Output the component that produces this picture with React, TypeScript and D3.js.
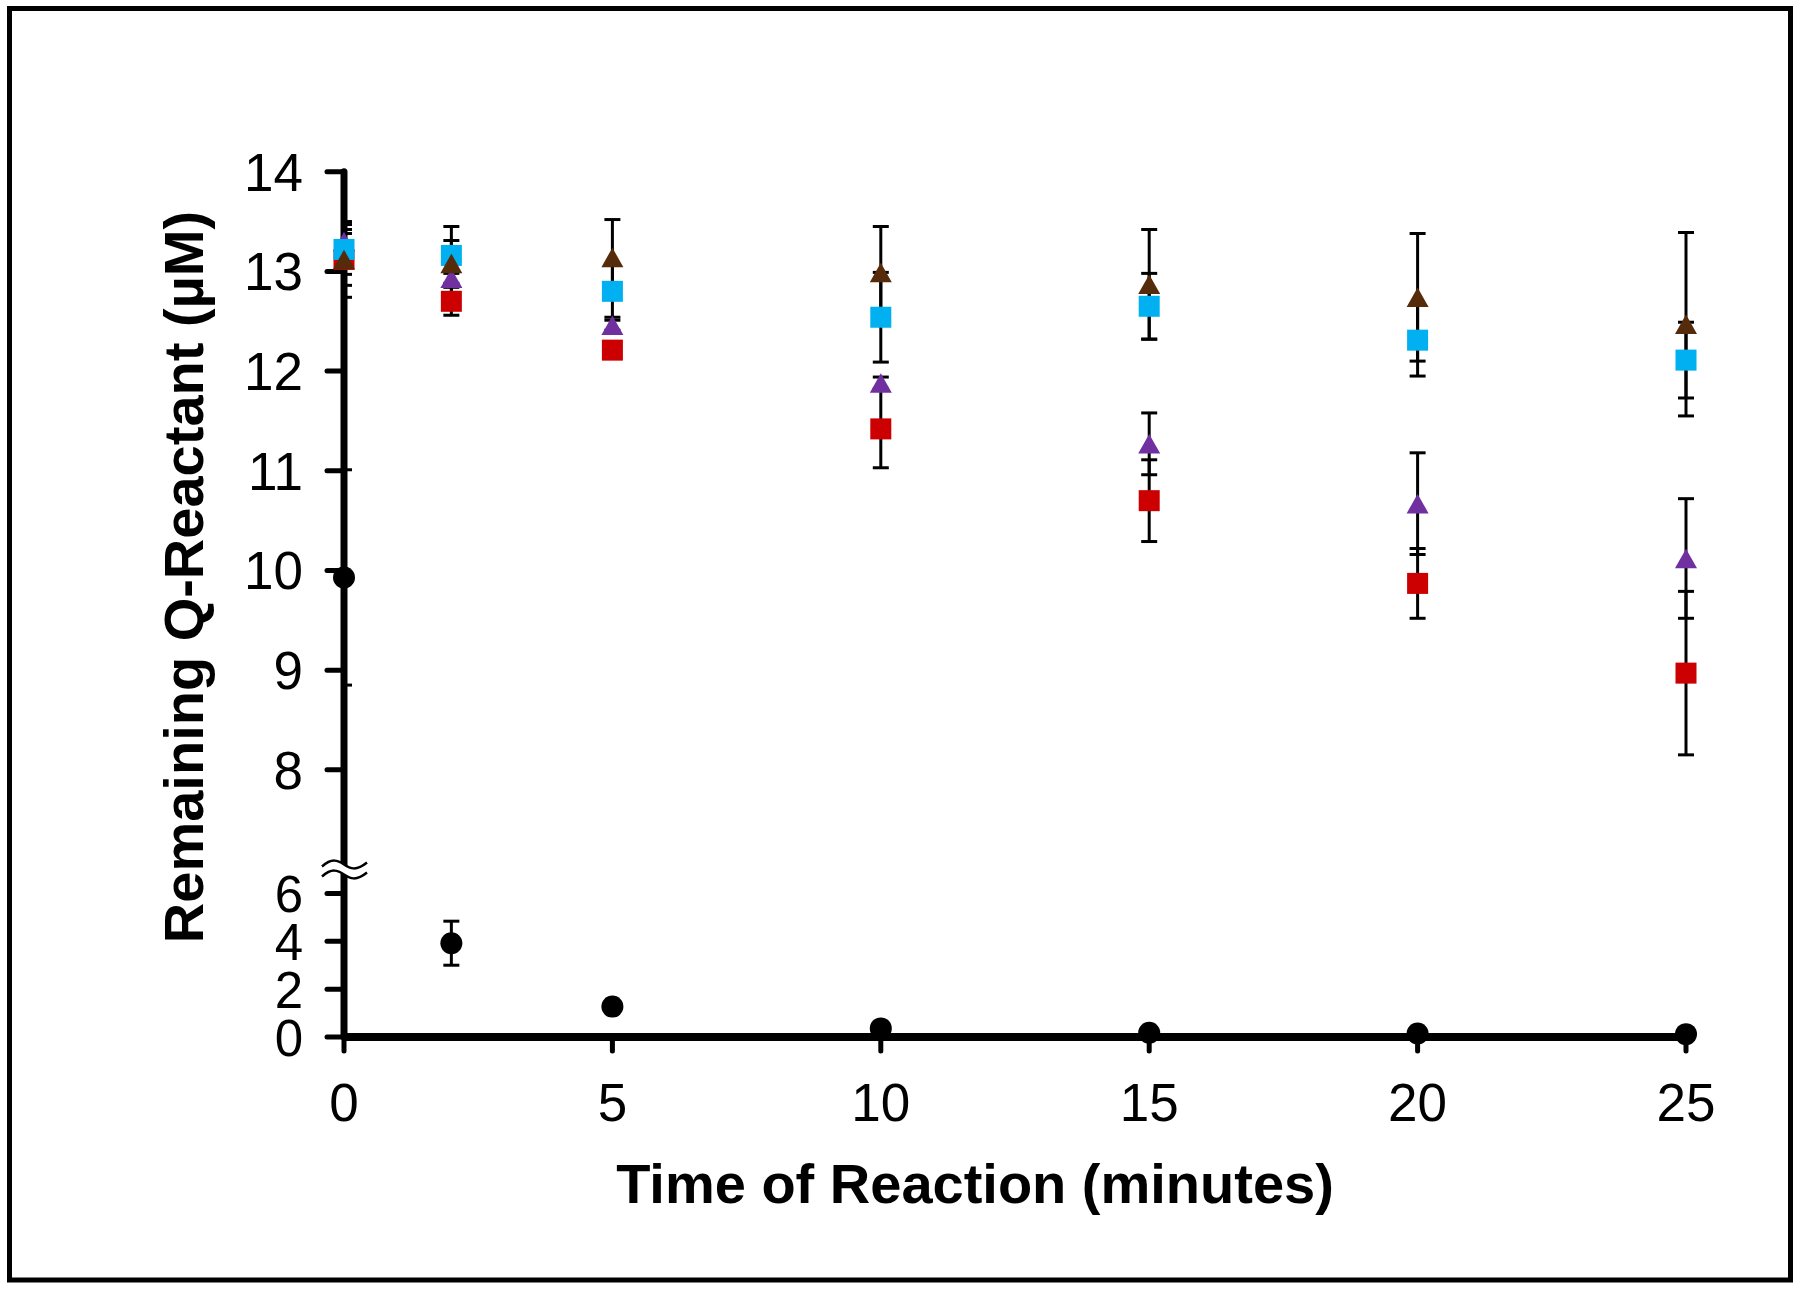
import React from "react";
import * as d3 from "d3";

const times = [0, 2, 5, 10, 15, 20, 25];
const xTicks = [0, 5, 10, 15, 20, 25];
const yTicks = [0, 2, 4, 6, 8, 9, 10, 11, 12, 13, 14];

const blackVals = [9.93, 3.92, 1.27, 0.36, 0.18, 0.15, 0.12];
const blackErr = [1.08, 0.92, 0, 0, 0, 0, 0];
const redVals = [13.12, 12.7, 12.21, 11.42, 10.7, 9.87, 8.97];
const redErr = [0.26, 0.14, 0.05, 0.39, 0.41, 0.35, 0.82];
const purpleVals = [13.3, 12.93, 12.46, 11.88, 11.27, 10.67, 10.12];
const purpleErr = [0.12, 0.05, 0.05, 0.06, 0.31, 0.51, 0.6];
const cyanVals = [13.22, 13.16, 12.8, 12.54, 12.65, 12.31, 12.11];
const cyanErr = [0.25, 0.15, 0.26, 0.45, 0.33, 0.36, 0.38];
const brownVals = [13.12, 13.08, 13.14, 12.99, 12.87, 12.74, 12.47];
const brownErr = [0.38, 0.37, 0.38, 0.46, 0.55, 0.64, 0.92];

type Series = { vals: number[]; err: number[]; color: string; shape: "circle" | "square" | "triangle" };

const series: Series[] = [
  { vals: blackVals, err: blackErr, color: "#000000", shape: "circle" },
  { vals: redVals, err: redErr, color: "#CC0000", shape: "square" },
  { vals: purpleVals, err: purpleErr, color: "#7030A0", shape: "triangle" },
  { vals: cyanVals, err: cyanErr, color: "#00B0F0", shape: "square" },
  { vals: brownVals, err: brownErr, color: "#562B0B", shape: "triangle" },
];

const FONT = "'Liberation Sans', Arial, Helvetica, sans-serif";

export default function App() {
  const x = d3.scaleLinear().domain([0, 25]).range([344, 1686]);
  // broken axis: lower segment 0..7 compressed, upper 7..14
  const y = d3.scaleLinear().domain([0, 7, 14]).range([1037, 869.5, 171.7]);

  const x0 = x(0);
  const y0 = y(0);
  const breakY = y(7);

  const marker = (s: Series, cx: number, cy: number, key: string) => {
    if (s.shape === "circle") return <circle key={key} cx={cx} cy={cy} r={11} fill={s.color} />;
    if (s.shape === "square")
      return <rect key={key} x={cx - 10.5} y={cy - 10.5} width={21} height={21} fill={s.color} />;
    const w = 22, h = 19.5;
    return (
      <path
        key={key}
        d={`M${cx},${cy - h / 2} L${cx + w / 2},${cy + h / 2} L${cx - w / 2},${cy + h / 2} Z`}
        fill={s.color}
      />
    );
  };

  const wave = (yy: number) =>
    `M${x0 - 22},${yy + 2} C${x0 - 12},${yy - 7} ${x0 - 6},${yy - 4} ${x0},${yy} C${x0 + 6},${yy + 4} ${x0 + 12},${yy + 7} ${x0 + 23},${yy - 2}`;

  return (
    <svg
      width={1800}
      height={1290}
      style={{ position: "absolute", left: 0, top: 0, background: "#fff" }}
      fontFamily={FONT}
    >
      <defs>
        <clipPath id="plotClip">
          <rect x={x0} y={0} width={1800 - x0} height={1290} />
        </clipPath>
      </defs>
      <rect x={0} y={0} width={1800} height={1290} fill="#fff" />
      <rect x={9.5} y={8.5} width={1781} height={1271.5} fill="none" stroke="#000" strokeWidth={5} />

      {/* axes */}
      <line x1={x0} x2={x0} y1={y(14)} y2={y0} stroke="#000" strokeWidth={7} strokeLinecap="round" />
      <line x1={x0} x2={x(25)} y1={y0} y2={y0} stroke="#000" strokeWidth={8} />
      {yTicks.map((t) => (
        <g key={"yt" + t}>
          <line x1={x0 - 17} x2={x0} y1={y(t)} y2={y(t)} stroke="#000" strokeWidth={5} strokeLinecap="round" />
          <text x={303} y={y(t) + 19} textAnchor="end" fontSize={t < 7 ? 51 : 53} fill="#000">
            {t}
          </text>
        </g>
      ))}
      {xTicks.map((t) => (
        <g key={"xt" + t}>
          <line x1={x(t)} x2={x(t)} y1={y0} y2={y0 + 14} stroke="#000" strokeWidth={5} strokeLinecap="round" />
          <text x={x(t)} y={1121} textAnchor="middle" fontSize={53} fill="#000">
            {t}
          </text>
        </g>
      ))}

      {/* axis break */}
      <path
        d={`${wave(breakY - 5)} L${x0 + 23},${breakY + 3} C${x0 + 12},${breakY + 12} ${x0 + 6},${breakY + 9} ${x0},${breakY + 5} C${x0 - 6},${breakY + 1} ${x0 - 12},${breakY - 2} ${x0 - 22},${breakY + 7} Z`}
        fill="#fff"
        stroke="none"
      />
      <path d={wave(breakY - 5)} fill="none" stroke="#000" strokeWidth={2.5} />
      <path d={wave(breakY + 5)} fill="none" stroke="#000" strokeWidth={2.5} />

      {/* error bars */}
      <g clipPath="url(#plotClip)">
        {series.map((s, si) =>
          times.map((t, i) => {
            const e = s.err[i];
            if (!e) return null;
            const cx = x(t);
            const yt = y(s.vals[i] + e);
            const yb = y(s.vals[i] - e);
            return (
              <g key={`e${si}-${i}`} stroke="#000" strokeWidth={3}>
                <line x1={cx} x2={cx} y1={yt} y2={yb} />
                <line x1={cx - 8} x2={cx + 8} y1={yt} y2={yt} />
                <line x1={cx - 8} x2={cx + 8} y1={yb} y2={yb} />
              </g>
            );
          })
        )}
      </g>

      {/* markers */}
      {series.map((s, si) => times.map((t, i) => marker(s, x(t), y(s.vals[i]), `m${si}-${i}`)))}

      {/* titles */}
      <text x={975} y={1203} textAnchor="middle" fontSize={56} fontWeight="bold" fill="#000">
        Time of Reaction (minutes)
      </text>
      <text
        transform={`translate(203,577) rotate(-90)`}
        textAnchor="middle"
        fontSize={56}
        fontWeight="bold"
        fill="#000"
      >
        Remaining Q-Reactant (µM)
      </text>
    </svg>
  );
}
